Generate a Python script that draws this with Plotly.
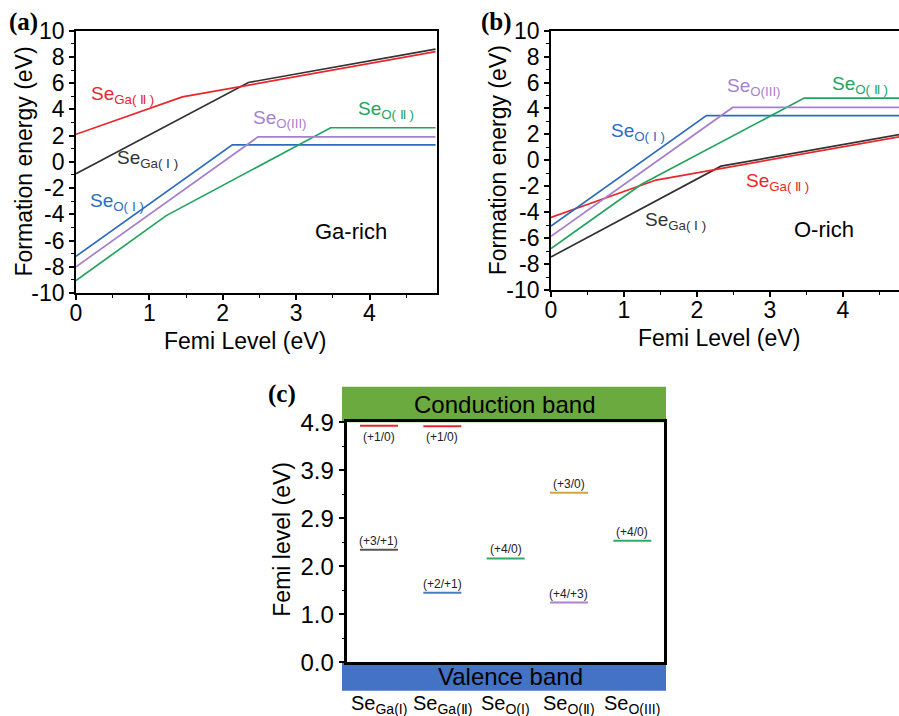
import plotly.graph_objects as go

W, H = 899, 716

# ---------------- data ----------------
# Panel (a) Ga-rich: formation energy vs Fermi level (kink points)
a_names = ["SeGa(I)", "SeGa(II)", "SeO(I)", "SeO(II)", "SeO(III)"]
a_x = {
    "SeGa(I)": [0, 2.35, 4.9],
    "SeGa(II)": [0, 1.45, 4.9],
    "SeO(I)": [0, 2.13, 4.9],
    "SeO(II)": [0, 1.23, 3.47, 4.9],
    "SeO(III)": [0, 2.48, 4.9],
}
a_y = {
    "SeGa(I)": [-0.9, 6.05, 8.6],
    "SeGa(II)": [2.1, 4.95, 8.4],
    "SeO(I)": [-7.2, 1.3, 1.3],
    "SeO(II)": [-9.05, -4.1, 2.6, 2.6],
    "SeO(III)": [-8.0, 1.9, 1.9],
}
# Panel (b) O-rich
b_x = {
    "SeGa(I)": [0, 2.33, 4.9],
    "SeGa(II)": [0, 1.44, 4.9],
    "SeO(I)": [0, 2.13, 4.9],
    "SeO(II)": [0, 1.24, 3.47, 4.9],
    "SeO(III)": [0, 2.49, 4.9],
}
b_y = {
    "SeGa(I)": [-7.45, -0.45, 2.12],
    "SeGa(II)": [-4.4, -1.52, 1.94],
    "SeO(I)": [-5.06, 3.45, 3.45],
    "SeO(II)": [-6.8, -1.85, 4.8, 4.8],
    "SeO(III)": [-5.85, 4.08, 4.08],
}
# labels in panels (a)/(b): (x, y) data positions of text
a_lab_pos = {"SeGa(II)": (0.63, 5.1), "SeGa(I)": (0.98, 0.2), "SeO(I)": (0.56, -3.05),
             "SeO(III)": (2.78, 3.3), "SeO(II)": (4.22, 3.95)}
b_lab_pos = {"SeGa(II)": (3.1, -1.64), "SeGa(I)": (1.70, -4.65), "SeO(I)": (1.19, 2.21),
             "SeO(III)": (2.78, 5.68), "SeO(II)": (4.24, 5.81)}
ab_lab_text = {
    "SeGa(I)": "Se<sub>Ga( Ⅰ )</sub>",
    "SeGa(II)": "Se<sub>Ga( Ⅱ )</sub>",
    "SeO(I)": "Se<sub>O( Ⅰ )</sub>",
    "SeO(II)": "Se<sub>O( Ⅱ )</sub>",
    "SeO(III)": "Se<sub>O(III)</sub>",
}
e_tickvals = [-10, -8, -6, -4, -2, 0, 2, 4, 6, 8, 10]
x_tickvals = [0, 1, 2, 3, 4]

# Panel (c) transition levels
c_categories = ["Se<sub>Ga(I)</sub>", "Se<sub>Ga(Ⅱ)</sub>", "Se<sub>O(I)</sub>",
                "Se<sub>O(Ⅱ)</sub>", "Se<sub>O(III)</sub>"]
level_cat = [0, 0, 1, 1, 2, 3, 3, 4]
level_val = [4.83, 2.30, 4.82, 1.42, 2.12, 3.46, 1.22, 2.48]
level_lab = ["(+1/0)", "(+3/+1)", "(+1/0)", "(+2/+1)", "(+4/0)", "(+3/0)", "(+4/+3)", "(+4/0)"]
c_tickvals = [0, 0.98, 1.96, 2.94, 3.92, 4.9]
c_ticktext = ["0.0", "1.0", "2.0", "2.9", "3.9", "4.9"]

# ---------------- styles ----------------
colors = {"SeGa(I)": "#333333", "SeGa(II)": "#e8262b", "SeO(I)": "#2b6cc0",
          "SeO(II)": "#22a45e", "SeO(III)": "#a87fcf"}
level_colors = ["#e8262b", "#555555", "#e8262b", "#4a7cc0", "#34a86a", "#d6a33a", "#b07fd0", "#34a86a"]
level_below = [True, False, True, False, False, False, False, False]
FONT = "Liberation Sans, Arial, sans-serif"

def px_x(p):
    return p / W

def px_y(p):
    return 1 - p / H

fig = go.Figure()

for name in a_names:
    fig.add_trace(go.Scatter(x=a_x[name], y=a_y[name], mode="lines",
                             line=dict(color=colors[name], width=1.7),
                             xaxis="x", yaxis="y", showlegend=False))
    fig.add_trace(go.Scatter(x=b_x[name], y=b_y[name], mode="lines",
                             line=dict(color=colors[name], width=1.7),
                             xaxis="x2", yaxis="y2", showlegend=False))

half = 0.3
for c, v, col in zip(level_cat, level_val, level_colors):
    fig.add_trace(go.Scatter(x=[c - half, c + half], y=[v, v], mode="lines",
                             line=dict(color=col, width=2),
                             xaxis="x3", yaxis="y3", showlegend=False))

annotations = []

def ann(**kw):
    d = dict(showarrow=False, xanchor="center", yanchor="middle")
    d.update(kw)
    annotations.append(d)

for name in a_names:
    xx, yy = a_lab_pos[name]
    ann(x=xx, y=yy, xref="x", yref="y", text=ab_lab_text[name],
        font=dict(size=19, color=colors[name], family=FONT))
    xx, yy = b_lab_pos[name]
    ann(x=xx, y=yy, xref="x2", yref="y2", text=ab_lab_text[name],
        font=dict(size=19, color=colors[name], family=FONT))

ann(x=3.75, y=-5.3, xref="x", yref="y", text="Ga-rich", font=dict(size=22, color="black", family=FONT))
ann(x=3.74, y=-5.31, xref="x2", yref="y2", text="O-rich", font=dict(size=22, color="black", family=FONT))

for c, v, lab, below in zip(level_cat, level_val, level_lab, level_below):
    ann(x=c, y=v, xref="x3", yref="y3", text=lab, yshift=-11 if below else 9,
        font=dict(size=12, color="#222222", family=FONT))

for i, cat in enumerate(c_categories):
    ann(x=i, y=px_y(704), xref="x3", yref="paper", text=cat, font=dict(size=20, color="black", family=FONT))

ann(x=px_x(504), y=px_y(404), xref="paper", yref="paper", text="Conduction band",
    font=dict(size=24, color="black", family=FONT))
ann(x=px_x(510), y=px_y(676), xref="paper", yref="paper", text="Valence band",
    font=dict(size=24, color="black", family=FONT))

for txt, xc, yc in [("(a)", 23, 22), ("(b)", 496, 22), ("(c)", 282, 394)]:
    ann(x=px_x(xc), y=px_y(yc), xref="paper", yref="paper", text="<b>%s</b>" % txt,
        font=dict(size=25, color="black", family="Liberation Serif, Times New Roman, serif"))

# axis titles placed as annotations
titlefont = dict(size=23, color="black", family=FONT)
for txt, xc, yc, ang in [("Formation energy (eV)", 23, 161.5, -90),
                         ("Femi Level (eV)", 245.3, 341, 0),
                         ("Femi Level (eV)", 719.2, 338, 0),
                         ("Formation energy (eV)", 498.3, 160, -90),
                         ("Femi level (eV)", 281.7, 539, -90)]:
    ann(x=px_x(xc), y=px_y(yc), xref="paper", yref="paper", text=txt, textangle=ang, font=titlefont)

shapes = [
    dict(type="rect", xref="paper", yref="paper", x0=px_x(342), x1=px_x(666),
         y0=px_y(422.3), y1=px_y(386.7), fillcolor="#6aaa3e", line=dict(width=0), layer="below"),
    dict(type="rect", xref="paper", yref="paper", x0=px_x(342), x1=px_x(666),
         y0=px_y(690.7), y1=px_y(662.3), fillcolor="#4472c4", line=dict(width=0), layer="below"),
]

tickfont = dict(size=23, color="black", family=FONT)

def xax(domain, rng, anchor):
    return dict(domain=domain, range=rng, anchor=anchor, tickvals=x_tickvals,
                ticktext=[str(v) for v in x_tickvals], automargin=False,
                showline=True, linecolor="black", linewidth=1.8, mirror=True,
                ticks="outside", ticklen=5, tickwidth=1.5, tickcolor="black",
                ticklabelstandoff=-7,
                minor=dict(dtick=0.5, ticks="outside", ticklen=3, tickwidth=1.2, tickcolor="black"),
                showgrid=False, zeroline=False, tickfont=tickfont)

def yax(domain, anchor):
    return dict(domain=domain, range=[-10, 10], anchor=anchor, tickvals=e_tickvals,
                ticktext=[str(v) for v in e_tickvals], automargin=False,
                showline=True, linecolor="black", linewidth=1.8, mirror=True,
                ticks="outside", ticklen=5, tickwidth=1.5, tickcolor="black",
                minor=dict(dtick=1, ticks="outside", ticklen=3, tickwidth=1.2, tickcolor="black"),
                showgrid=False, zeroline=False, tickfont=tickfont)

fig.update_layout(
    template="none",
    width=W, height=H,
    margin=dict(l=0, r=0, t=0, b=0, pad=0),
    paper_bgcolor="white", plot_bgcolor="white",
    xaxis=xax([px_x(76), px_x(437)], [0, 4.92], "y"),
    yaxis=yax([px_y(293), px_y(30.7)], "x"),
    xaxis2=xax([px_x(551), 1.0], [0, 4.77], "y2"),
    yaxis2=yax([px_y(290), px_y(30.7)], "x2"),
    xaxis3=dict(domain=[px_x(347.3), px_x(664)], range=[-0.5, 4.5], anchor="y3", automargin=False,
                showline=True, linecolor="black", linewidth=2.5, mirror=True,
                showticklabels=False, ticks="", showgrid=False, zeroline=False),
    yaxis3=dict(domain=[px_y(662.3), px_y(422.3)], range=[0, 4.9], anchor="x3", automargin=False,
                tickvals=c_tickvals, ticktext=c_ticktext,
                showline=True, linecolor="black", linewidth=2.5, mirror=True,
                ticks="outside", ticklen=6, tickwidth=1.5, tickcolor="black",
                minor=dict(tickvals=[0.49, 1.47, 2.45, 3.43, 4.41], ticks="outside", ticklen=3,
                           tickwidth=1.2, tickcolor="black"),
                showgrid=False, zeroline=False, tickfont=dict(size=24, color="black", family=FONT)),
    annotations=annotations,
    shapes=shapes,
)

fig.write_html("out.html")
